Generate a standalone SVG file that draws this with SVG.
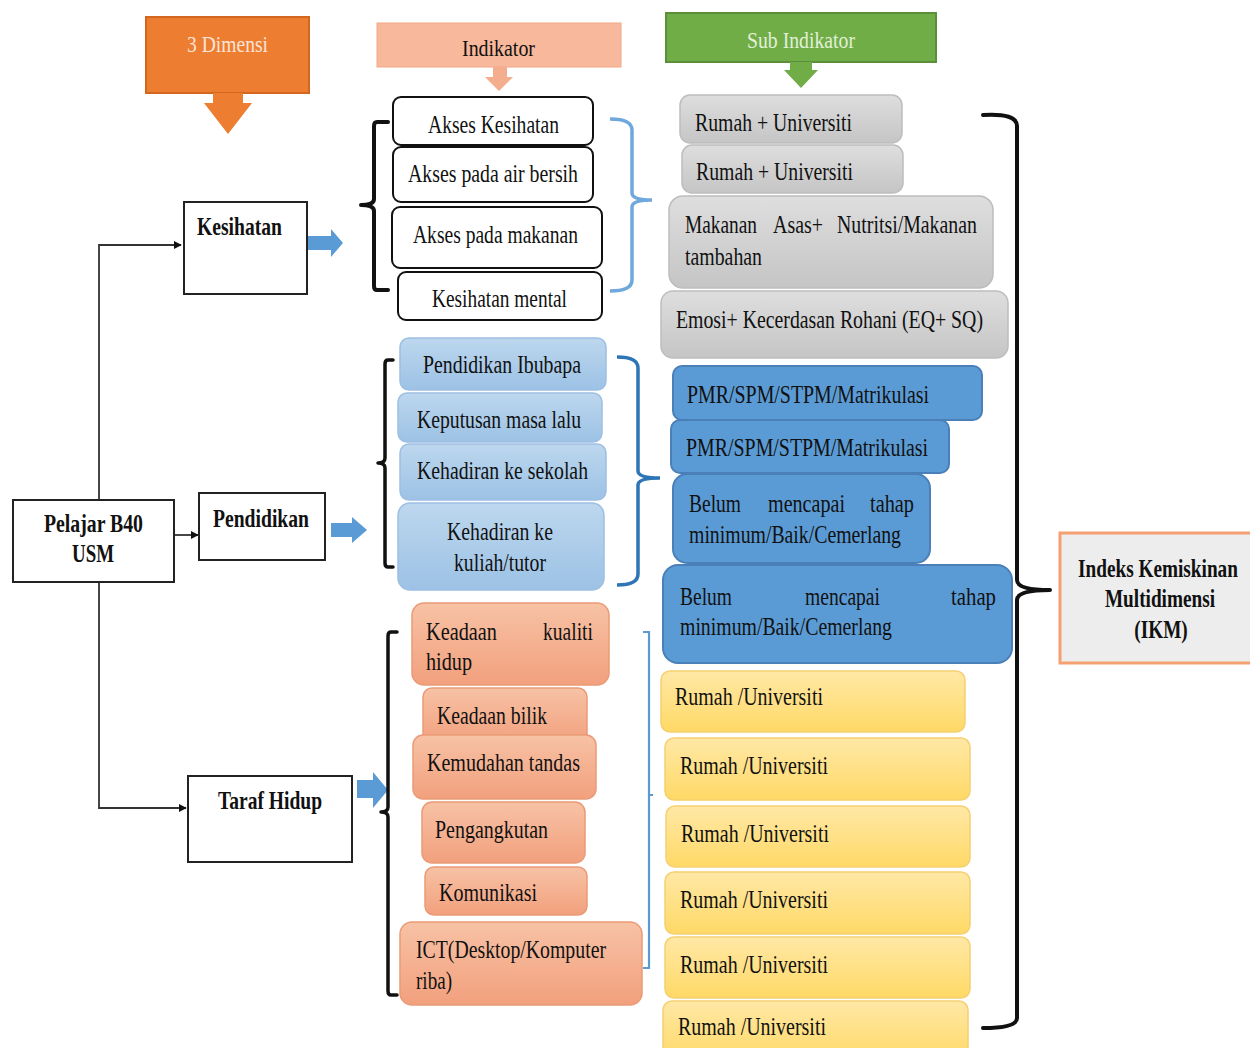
<svg xmlns="http://www.w3.org/2000/svg" width="1250" height="1048" viewBox="0 0 1250 1048">
<defs>
<linearGradient id="gGrey" x1="0" y1="0" x2="0" y2="1"><stop offset="0" stop-color="#DEDEDE"/><stop offset="1" stop-color="#C5C5C5"/></linearGradient>
<linearGradient id="gLB" x1="0" y1="0" x2="0" y2="1"><stop offset="0" stop-color="#BDD7EE"/><stop offset="1" stop-color="#9CC2E5"/></linearGradient>
<linearGradient id="gSal" x1="0" y1="0" x2="0" y2="1"><stop offset="0" stop-color="#F7C2A5"/><stop offset="1" stop-color="#F2A07D"/></linearGradient>
<linearGradient id="gYel" x1="0" y1="0" x2="0" y2="1"><stop offset="0" stop-color="#FFE8A6"/><stop offset="1" stop-color="#FFD966"/></linearGradient>
<marker id="ah" viewBox="0 0 10 10" refX="9" refY="5" markerWidth="8" markerHeight="8" markerUnits="userSpaceOnUse" orient="auto"><path d="M0,0 L10,5 L0,10 z" fill="#111"/></marker>
</defs>
<style>
.t{font-family:"Liberation Serif","Times New Roman",serif;font-size:25px;fill:#111}
.b{font-weight:bold}
.box{fill:#fff;stroke:#222;stroke-width:2}
.ind{fill:#fff;stroke:#111;stroke-width:2}
.grey{fill:url(#gGrey);stroke:#BDBDBD;stroke-width:1.5}
.lb{fill:url(#gLB);stroke:#9DBFE3;stroke-width:1.5}
.sal{fill:url(#gSal);stroke:#EA9A76;stroke-width:1.5}
.yel{fill:url(#gYel);stroke:#F5D070;stroke-width:1.5}
.pmr{fill:#5B9BD5;stroke:#4A7FB8;stroke-width:2}
.ln{fill:none;stroke:#333;stroke-width:1.8}
.blk{fill:#5B9BD5}
.brk{fill:none;stroke:#111;stroke-width:4;stroke-linejoin:round;stroke-linecap:round}
</style>
<rect width="1250" height="1048" fill="#fff"/>

<g id="header-dimensi">
<rect x="146" y="17" width="163" height="76" fill="#ED7D31" stroke="#D4671F" stroke-width="2"/>
<polygon points="213,93 243,93 243,103 252,103 228,134 204,103 213,103" fill="#ED7D31"/>
<text class="t" x="187" y="52" textLength="81" lengthAdjust="spacingAndGlyphs" style="fill:#FCE4D6;font-size:24px">3 Dimensi</text>
</g>
<g id="header-indikator">
<rect x="377" y="23" width="244" height="44" fill="#F8B89B" stroke="#F2A889" stroke-width="1"/>
<polygon points="493,67 507,67 507,77 513,77 499,91 485,77 493,77" fill="#F4AE8E"/>
<text class="t" x="462" y="56" textLength="73" lengthAdjust="spacingAndGlyphs" style="font-size:24px">Indikator</text>
</g>
<g id="header-sub">
<rect x="666" y="13" width="270" height="49" fill="#70AD47" stroke="#5B8F3A" stroke-width="2"/>
<polygon points="790,62 812,62 812,70 818,70 801,88 784,70 790,70" fill="#70AD47"/>
<text class="t" x="747" y="48" textLength="108" lengthAdjust="spacingAndGlyphs" style="fill:#E2F0D9;font-size:24px">Sub Indikator</text>
</g>

<g id="connectors">
<polyline class="ln" points="99,500 99,245 181,245" marker-end="url(#ah)"/>
<polyline class="ln" points="99,582 99,808 186,808" marker-end="url(#ah)"/>
<line class="ln" x1="174" y1="535" x2="198" y2="535" marker-end="url(#ah)"/>
<polygon class="blk" points="307,236 331,236 331,229 343,243 331,257 331,250 307,250"/>
<polygon class="blk" points="331,523 352,523 352,517 367,530 352,543 352,537 331,537"/>
<polygon class="blk" points="357,780 373,780 373,772 388,790 373,808 373,798 357,798"/>
<path class="brk" d="M388,122 L377,122 Q374,122 374,126 L374,199 Q374,205 361,205 Q374,205 374,211 L374,286 Q374,290 377,290 L388,290"/>
<path class="brk" style="stroke-width:3.5" d="M393,360 L388,360 Q385,360 385,364 L385,458 Q385,463 378,463 Q385,463 385,468 L385,563 Q385,567 388,567 L393,567"/>
<path class="brk" style="stroke-width:3.5" d="M397,632 L391,632 Q388,632 388,636 L388,807 Q388,812 381,812 Q388,812 388,817 L388,991 Q388,995 391,995 L397,995"/>
<path fill="none" stroke="#6FA8DC" stroke-width="3.5" d="M610,119 Q632,119 632,130 L632,193 Q632,200 652,200 Q632,200 632,207 L632,280 Q632,291 610,291"/>
<path fill="none" stroke="#2E75B6" stroke-width="3.5" d="M617,357 Q638,357 638,368 L638,471 Q638,478 660,478 Q638,478 638,485 L638,574 Q638,585 617,585"/>
<path fill="none" stroke="#5B9BD5" stroke-width="2.2" d="M643,632 L649,632 L649,968 L643,968 M649,795 L653,795"/>
<path class="brk" d="M983,115 Q1017,113 1017,126 L1017,580 Q1017,590 1050,590 Q1017,590 1017,600 L1017,1018 Q1017,1028 983,1028"/>
</g>

<g id="node-pelajar">
<rect class="box" x="13" y="500" width="161" height="82"/>
<text class="t b" x="44" y="532" textLength="99" lengthAdjust="spacingAndGlyphs">Pelajar B40</text>
<text class="t b" x="72" y="562" textLength="42" lengthAdjust="spacingAndGlyphs">USM</text>
</g>
<g id="node-kesihatan">
<rect class="box" x="184" y="202" width="123" height="92"/>
<text class="t b" x="197" y="235" textLength="85" lengthAdjust="spacingAndGlyphs">Kesihatan</text>
</g>
<g id="node-pendidikan">
<rect class="box" x="199" y="493" width="126" height="67"/>
<text class="t b" x="213" y="527" textLength="96" lengthAdjust="spacingAndGlyphs">Pendidikan</text>
</g>
<g id="node-taraf">
<rect class="box" x="188" y="776" width="164" height="86"/>
<text class="t b" x="218" y="809" textLength="104" lengthAdjust="spacingAndGlyphs">Taraf Hidup</text>
</g>

<g id="ind-akses-kesihatan">
<rect class="ind" x="393" y="97" width="200" height="48" rx="8"/>
<text class="t" x="428" y="133" textLength="131" lengthAdjust="spacingAndGlyphs">Akses Kesihatan</text>
</g>
<g id="ind-akses-air">
<rect class="ind" x="393" y="147" width="200" height="55" rx="8"/>
<text class="t" x="408" y="182" textLength="170" lengthAdjust="spacingAndGlyphs">Akses pada air bersih</text>
</g>
<g id="ind-akses-makanan">
<rect class="ind" x="392" y="207" width="210" height="61" rx="8"/>
<text class="t" x="413" y="243" textLength="165" lengthAdjust="spacingAndGlyphs">Akses pada makanan</text>
</g>
<g id="ind-kesihatan-mental">
<rect class="ind" x="398" y="272" width="204" height="48" rx="8"/>
<text class="t" x="432" y="307" textLength="135" lengthAdjust="spacingAndGlyphs">Kesihatan mental</text>
</g>

<g id="ind-pendidikan-ibubapa">
<rect class="lb" x="400" y="338" width="206" height="52" rx="9"/>
<text class="t" x="423" y="373" textLength="158" lengthAdjust="spacingAndGlyphs">Pendidikan Ibubapa</text>
</g>
<g id="ind-keputusan">
<rect class="lb" x="398" y="393" width="204" height="49" rx="9"/>
<text class="t" x="417" y="428" textLength="164" lengthAdjust="spacingAndGlyphs">Keputusan masa lalu</text>
</g>
<g id="ind-sekolah">
<rect class="lb" x="400" y="444" width="206" height="56" rx="9"/>
<text class="t" x="417" y="479" textLength="171" lengthAdjust="spacingAndGlyphs">Kehadiran ke sekolah</text>
</g>
<g id="ind-kuliah">
<rect class="lb" x="398" y="503" width="206" height="87" rx="12"/>
<text class="t" x="447" y="540" textLength="106" lengthAdjust="spacingAndGlyphs">Kehadiran ke</text>
<text class="t" x="454" y="571" textLength="92" lengthAdjust="spacingAndGlyphs">kuliah/tutor</text>
</g>

<g id="ind-kualiti">
<rect class="sal" x="412" y="603" width="197" height="82" rx="12"/>
<text class="t" x="426" y="640" textLength="71" lengthAdjust="spacingAndGlyphs">Keadaan</text>
<text class="t" x="543" y="640" textLength="50" lengthAdjust="spacingAndGlyphs">kualiti</text>
<text class="t" x="426" y="670" textLength="46" lengthAdjust="spacingAndGlyphs">hidup</text>
</g>
<g id="ind-bilik">
<rect class="sal" x="423" y="688" width="164" height="56" rx="9"/>
<text class="t" x="437" y="724" textLength="110" lengthAdjust="spacingAndGlyphs">Keadaan bilik</text>
</g>
<g id="ind-tandas">
<rect class="sal" x="413" y="735" width="183" height="64" rx="10"/>
<text class="t" x="427" y="771" textLength="153" lengthAdjust="spacingAndGlyphs">Kemudahan tandas</text>
</g>
<g id="ind-pengangkutan">
<rect class="sal" x="422" y="802" width="163" height="61" rx="10"/>
<text class="t" x="435" y="838" textLength="113" lengthAdjust="spacingAndGlyphs">Pengangkutan</text>
</g>
<g id="ind-komunikasi">
<rect class="sal" x="425" y="867" width="162" height="48" rx="9"/>
<text class="t" x="439" y="901" textLength="98" lengthAdjust="spacingAndGlyphs">Komunikasi</text>
</g>
<g id="ind-ict">
<rect class="sal" x="400" y="922" width="242" height="83" rx="12"/>
<text class="t" x="416" y="958" textLength="190" lengthAdjust="spacingAndGlyphs">ICT(Desktop/Komputer</text>
<text class="t" x="416" y="989" textLength="36" lengthAdjust="spacingAndGlyphs">riba)</text>
</g>

<g id="sub-rumah-1">
<rect class="grey" x="680" y="95" width="222" height="48" rx="10"/>
<text class="t" x="695" y="131" textLength="157" lengthAdjust="spacingAndGlyphs">Rumah + Universiti</text>
</g>
<g id="sub-rumah-2">
<rect class="grey" x="682" y="145" width="221" height="48" rx="10"/>
<text class="t" x="696" y="180" textLength="157" lengthAdjust="spacingAndGlyphs">Rumah + Universiti</text>
</g>
<g id="sub-makanan">
<rect class="grey" x="669" y="196" width="324" height="92" rx="14"/>
<text class="t" x="685" y="233" textLength="72" lengthAdjust="spacingAndGlyphs">Makanan</text>
<text class="t" x="773" y="233" textLength="50" lengthAdjust="spacingAndGlyphs">Asas+</text>
<text class="t" x="837" y="233" textLength="140" lengthAdjust="spacingAndGlyphs">Nutritsi/Makanan</text>
<text class="t" x="685" y="265" textLength="77" lengthAdjust="spacingAndGlyphs">tambahan</text>
</g>
<g id="sub-emosi">
<rect class="grey" x="661" y="291" width="347" height="67" rx="12"/>
<text class="t" x="676" y="328" textLength="307" lengthAdjust="spacingAndGlyphs">Emosi+ Kecerdasan Rohani (EQ+ SQ)</text>
</g>

<g id="sub-pmr-1">
<rect class="pmr" x="673" y="366" width="309" height="54" rx="9"/>
<text class="t" x="687" y="403" textLength="242" lengthAdjust="spacingAndGlyphs">PMR/SPM/STPM/Matrikulasi</text>
</g>
<g id="sub-pmr-2">
<rect class="pmr" x="671" y="420" width="278" height="53" rx="9"/>
<text class="t" x="686" y="456" textLength="242" lengthAdjust="spacingAndGlyphs">PMR/SPM/STPM/Matrikulasi</text>
</g>
<g id="sub-belum-1">
<rect class="pmr" x="673" y="474" width="257" height="89" rx="14"/>
<text class="t" x="689" y="512" textLength="52" lengthAdjust="spacingAndGlyphs">Belum</text>
<text class="t" x="768" y="512" textLength="77" lengthAdjust="spacingAndGlyphs">mencapai</text>
<text class="t" x="870" y="512" textLength="44" lengthAdjust="spacingAndGlyphs">tahap</text>
<text class="t" x="689" y="543" textLength="212" lengthAdjust="spacingAndGlyphs">minimum/Baik/Cemerlang</text>
</g>
<g id="sub-belum-2">
<rect class="pmr" x="663" y="565" width="349" height="98" rx="15"/>
<text class="t" x="680" y="605" textLength="52" lengthAdjust="spacingAndGlyphs">Belum</text>
<text class="t" x="805" y="605" textLength="75" lengthAdjust="spacingAndGlyphs">mencapai</text>
<text class="t" x="951" y="605" textLength="45" lengthAdjust="spacingAndGlyphs">tahap</text>
<text class="t" x="680" y="635" textLength="212" lengthAdjust="spacingAndGlyphs">minimum/Baik/Cemerlang</text>
</g>

<g id="sub-yel-1">
<rect class="yel" x="661" y="671" width="304" height="61" rx="9"/>
<text class="t" x="675" y="705" textLength="148" lengthAdjust="spacingAndGlyphs">Rumah /Universiti</text>
</g>
<g id="sub-yel-2">
<rect class="yel" x="665" y="738" width="305" height="62" rx="9"/>
<text class="t" x="680" y="774" textLength="148" lengthAdjust="spacingAndGlyphs">Rumah /Universiti</text>
</g>
<g id="sub-yel-3">
<rect class="yel" x="666" y="806" width="304" height="61" rx="9"/>
<text class="t" x="681" y="842" textLength="148" lengthAdjust="spacingAndGlyphs">Rumah /Universiti</text>
</g>
<g id="sub-yel-4">
<rect class="yel" x="665" y="872" width="305" height="62" rx="9"/>
<text class="t" x="680" y="908" textLength="148" lengthAdjust="spacingAndGlyphs">Rumah /Universiti</text>
</g>
<g id="sub-yel-5">
<rect class="yel" x="665" y="937" width="305" height="61" rx="9"/>
<text class="t" x="680" y="973" textLength="148" lengthAdjust="spacingAndGlyphs">Rumah /Universiti</text>
</g>
<g id="sub-yel-6">
<rect class="yel" x="663" y="1001" width="305" height="60" rx="9"/>
<text class="t" x="678" y="1035" textLength="148" lengthAdjust="spacingAndGlyphs">Rumah /Universiti</text>
</g>

<g id="node-ikm">
<rect x="1060" y="533" width="200" height="130" fill="#EDEDED" stroke="#F4A070" stroke-width="3"/>
<text class="t b" transform="translate(1158,577) scale(0.77,1)" text-anchor="middle">Indeks Kemiskinan</text>
<text class="t b" transform="translate(1160,607) scale(0.77,1)" text-anchor="middle">Multidimensi</text>
<text class="t b" transform="translate(1161,638) scale(0.77,1)" text-anchor="middle">(IKM)</text>
</g>
</svg>
